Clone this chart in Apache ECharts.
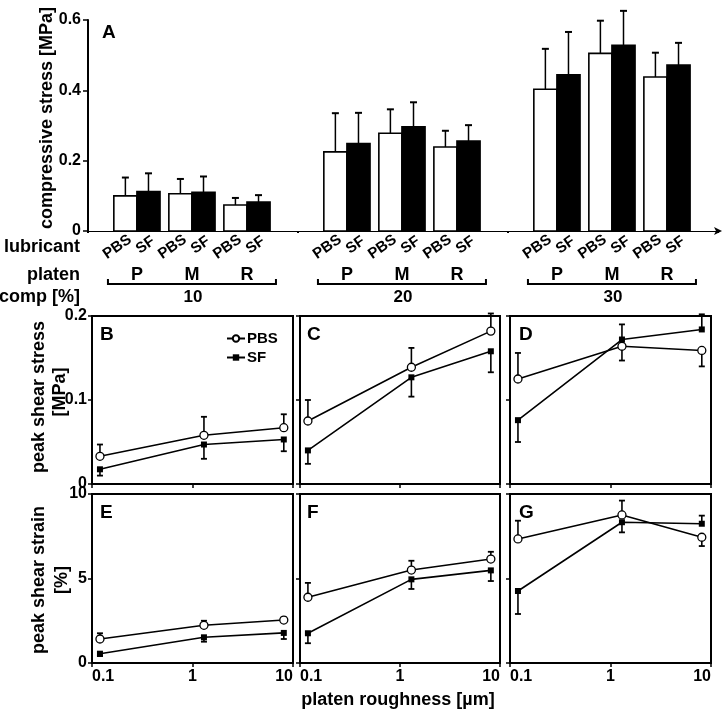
<!DOCTYPE html>
<html><head><meta charset="utf-8">
<script src="https://cdn.jsdelivr.net/npm/echarts@6/dist/echarts.min.js"></script>
<style>html,body{margin:0;padding:0;background:#fff}#c{width:724px;height:714px}</style>
</head><body><div id="c"></div>
<script>
// ---------- DATA ----------
const compGroups = ['10', '20', '30'];          // comp [%]
const platens = ['P', 'M', 'R'];
const lubricants = ['PBS', 'SF'];
// Panel A: compressive stress [MPa], rows = comp group, cols = platen
const compStressPBS   = [[0.100, 0.106, 0.074], [0.225, 0.278, 0.239], [0.403, 0.505, 0.438]];
const compStressPBSsd = [[0.052, 0.042, 0.020], [0.110, 0.068, 0.046], [0.115, 0.093, 0.069]];
const compStressSF    = [[0.112, 0.110, 0.082], [0.249, 0.296, 0.256], [0.444, 0.528, 0.472]];
const compStressSFsd  = [[0.052, 0.045, 0.020], [0.087, 0.070, 0.045], [0.122, 0.098, 0.063]];
// Panels B-G: x = platen roughness [um]
const roughness = [0.12, 1.3, 8.1];
const shearStressPBS   = [[0.033, 0.058, 0.067], [0.075, 0.139, 0.182], [0.125, 0.164, 0.159]];
const shearStressPBSsd = [[0.014, 0.022, 0.016], [0.025, 0.023, 0.021], [0.031, 0.017, 0.019]];
const shearStressSF    = [[0.0175, 0.047, 0.053], [0.040, 0.127, 0.158], [0.076, 0.172, 0.184]];
const shearStressSFsd  = [[0.0075, 0.017, 0.014], [0.016, 0.023, 0.025], [0.026, 0.018, 0.018]];
const shearStrainPBS   = [[1.42, 2.23, 2.54], [3.89, 5.50, 6.15], [7.34, 8.76, 7.44]];
const shearStrainPBSsd = [[0.34, 0.27, 0.16], [0.85, 0.55, 0.43], [1.08, 0.85, 0.52]];
const shearStrainSF    = [[0.55, 1.52, 1.78], [1.76, 4.95, 5.48], [4.26, 8.33, 8.24]];
const shearStrainSFsd  = [[0.14, 0.26, 0.36], [0.59, 0.57, 0.63], [1.36, 0.60, 0.48]];
const compTicksA = [0, 0.2, 0.4, 0.6];
const stressTicks = [0, 0.1, 0.2];
const strainTicks = [0, 5, 10];
const panelLettersTop = ['B', 'C', 'D'];
const panelLettersBottom = ['E', 'F', 'G'];

// ---------- STYLE / LAYOUT ----------
const FF = '"Liberation Sans", Arial, sans-serif';
const BLACK = '#000';
const lefts = [92, 300, 510];
const widths = [201, 200, 201];

const grids = [], xAxes = [], yAxes = [], series = [];

// Panel A grid
grids.push({left: 88, top: 20, right: 6, bottom: 483, show: false, outerBoundsMode: 'none', containLabel: false});
xAxes.push({
  type: 'category', gridIndex: 0, data: compGroups, boundaryGap: true,
  axisLine: {show: true, lineStyle: {color: BLACK, width: 1}, symbol: ['none', 'arrow'], symbolSize: [6, 8], symbolOffset: [0, 4]},
  axisTick: {show: true, length: 2, lineStyle: {color: BLACK, width: 2}},
  axisLabel: {show: true, margin: 58, color: BLACK, fontFamily: FF, fontWeight: 'bold', fontSize: 17},
  splitLine: {show: false}
});
yAxes.push({
  type: 'value', gridIndex: 0, min: compTicksA[0], max: compTicksA[compTicksA.length - 1], interval: 0.2,
  axisLine: {show: true, lineStyle: {color: BLACK, width: 2}},
  axisTick: {show: true, inside: false, length: 5, lineStyle: {color: BLACK, width: 1.5}},
  axisLabel: {color: BLACK, fontFamily: FF, fontWeight: 'bold', fontSize: 16, margin: 7},
  splitLine: {show: false}
});

// Panel A bars + error bars + lubricant labels
const barData = [];
compGroups.forEach((g, gi) => {
  platens.forEach((p, pi) => {
    barData.push([gi, compStressPBS[gi][pi], compStressPBSsd[gi][pi], pi, 0]);
    barData.push([gi, compStressSF[gi][pi], compStressSFsd[gi][pi], pi, 1]);
  });
});
series.push({
  type: 'custom', name: 'compBars', xAxisIndex: 0, yAxisIndex: 0, clip: false, z: 3,
  encode: {x: 0, y: 1}, data: barData,
  renderItem: function (params, api) {
    const gi = api.value(0), mean = api.value(1), sd = api.value(2), pi = api.value(3), li = api.value(4);
    const band = api.size([1, 0])[0];
    const base = api.coord([gi, 0]);
    const top = api.coord([gi, mean])[1];
    const errTop = api.coord([gi, mean + sd])[1];
    const w = band * 0.11;
    const pairC = base[0] - band * 0.005 + (pi - 1) * band * 0.262;
    const x0 = li === 0 ? pairC - w : pairC;
    const xc = x0 + w / 2;
    return {
      type: 'group', children: [
        {type: 'line', shape: {x1: xc, y1: top, x2: xc, y2: errTop}, style: {stroke: BLACK, lineWidth: 1.5}},
        {type: 'line', shape: {x1: xc - 3.5, y1: errTop, x2: xc + 3.5, y2: errTop}, style: {stroke: BLACK, lineWidth: 2}},
        {type: 'rect', shape: {x: x0, y: top, width: w, height: base[1] - top},
          style: {fill: li === 0 ? '#fff' : BLACK, stroke: BLACK, lineWidth: 1.6}},
        {type: 'text', x: li === 0 ? xc - 8 : xc - 3, y: base[1] + (li === 0 ? 16 : 14), rotation: 35 * Math.PI / 180,
          style: {text: lubricants[li], fill: BLACK, font: 'bold 15px ' + FF, align: 'center', verticalAlign: 'middle'}}
      ]
    };
  }
});
// platen labels + brackets
const platenData = [];
compGroups.forEach((g, gi) => platens.forEach((p, pi) => platenData.push([gi, 0, pi])));
series.push({
  type: 'custom', name: 'platenLabels', xAxisIndex: 0, yAxisIndex: 0, clip: false,
  encode: {x: 0, y: 1}, data: platenData,
  renderItem: function (params, api) {
    const gi = api.value(0), pi = api.value(2);
    const band = api.size([1, 0])[0];
    const base = api.coord([gi, 0]);
    const cx = base[0] - band * 0.005;
    const pc = cx + (pi - 1) * band * 0.262;
    const children = [
      {type: 'text', x: pc, y: base[1] + 44, style: {text: platens[pi], fill: BLACK, font: 'bold 18px ' + FF, align: 'center', verticalAlign: 'middle'}}
    ];
    if (pi === 0) {
      const half = band * 0.4;
      const y = base[1] + 53;
      children.push({type: 'polyline', shape: {points: [[cx - half, y - 5], [cx - half, y], [cx + half, y], [cx + half, y - 5]]},
        style: {stroke: BLACK, lineWidth: 2, fill: null}});
    }
    return {type: 'group', children};
  }
});

// Lower panels
function errData(mean, sd, other) {
  return roughness.map((x, i) => [x, mean[i], sd[i], mean[i] >= other[i] ? 1 : -1]);
}
function errRender(params, api) {
  const x = api.value(0), m = api.value(1), sd = api.value(2), d = api.value(3);
  const p = api.coord([x, m]);
  const e = api.coord([x, m + d * sd]);
  return {type: 'group', children: [
    {type: 'line', shape: {x1: p[0], y1: p[1], x2: e[0], y2: e[1]}, style: {stroke: BLACK, lineWidth: 1.6}},
    {type: 'line', shape: {x1: e[0] - 3, y1: e[1], x2: e[0] + 3, y2: e[1]}, style: {stroke: BLACK, lineWidth: 1.8}}
  ]};
}
const rows = [
  {top: 316, height: 168, ticks: stressTicks, interval: 0.1, pbs: shearStressPBS, pbsSd: shearStressPBSsd, sf: shearStressSF, sfSd: shearStressSFsd, showX: false},
  {top: 494, height: 169, ticks: strainTicks, interval: 5, pbs: shearStrainPBS, pbsSd: shearStrainPBSsd, sf: shearStrainSF, sfSd: shearStrainSFsd, showX: true}
];
rows.forEach((row, ri) => {
  compGroups.forEach((g, k) => {
    const gi = grids.length;
    grids.push({left: lefts[k], width: widths[k], top: row.top, height: row.height, show: true,
      borderColor: BLACK, borderWidth: 2, backgroundColor: 'transparent', outerBoundsMode: 'none', containLabel: false});
    xAxes.push({
      type: 'log', logBase: 10, gridIndex: gi, min: 0.1, max: 10,
      axisLine: {show: false},
      axisTick: {show: true, inside: false, length: 4, lineStyle: {color: BLACK, width: 1.5}},
      axisLabel: {show: row.showX, color: BLACK, fontFamily: FF, fontWeight: 'bold', fontSize: 16, margin: 6,
        alignMinLabel: 'left', alignMaxLabel: 'right'},
      splitLine: {show: false}, minorTick: {show: false}
    });
    yAxes.push({
      type: 'value', gridIndex: gi, min: row.ticks[0], max: row.ticks[row.ticks.length - 1], interval: row.interval,
      axisLine: {show: false},
      axisTick: {show: true, inside: false, length: 4, lineStyle: {color: BLACK, width: 1.5}},
      axisLabel: {show: k === 0, color: BLACK, fontFamily: FF, fontWeight: 'bold', fontSize: 16, margin: 5},
      splitLine: {show: false}
    });
    series.push({
      type: 'custom', name: 'errPBS' + gi, xAxisIndex: gi, yAxisIndex: gi, clip: false, z: 1,
      encode: {x: 0, y: 1}, data: errData(row.pbs[k], row.pbsSd[k], row.sf[k]), renderItem: errRender
    });
    series.push({
      type: 'custom', name: 'errSF' + gi, xAxisIndex: gi, yAxisIndex: gi, clip: false, z: 1,
      encode: {x: 0, y: 1}, data: errData(row.sf[k], row.sfSd[k], row.pbs[k]), renderItem: errRender
    });
    series.push({
      type: 'line', name: 'PBS', xAxisIndex: gi, yAxisIndex: gi, z: 3, clip: false,
      data: roughness.map((x, i) => [x, row.pbs[k][i]]),
      symbol: 'circle', symbolSize: 8, showAllSymbol: true,
      lineStyle: {color: BLACK, width: 1.6}, itemStyle: {color: '#fff', borderColor: BLACK, borderWidth: 1.3}
    });
    series.push({
      type: 'line', name: 'SF', xAxisIndex: gi, yAxisIndex: gi, z: 3, clip: false,
      data: roughness.map((x, i) => [x, row.sf[k][i]]),
      symbol: 'rect', symbolSize: 6, showAllSymbol: true,
      lineStyle: {color: BLACK, width: 1.6}, itemStyle: {color: BLACK, borderColor: BLACK, borderWidth: 0}
    });
  });
});

function txt(text, x, y, size, opts) {
  opts = opts || {};
  return {type: 'text', x: x, y: y, rotation: opts.rot || 0, z: 10,
    style: {text: text, fill: BLACK, font: 'bold ' + size + 'px ' + FF, align: opts.align || 'left', verticalAlign: 'middle'}};
}
const R90 = Math.PI / 2;
const graphics = [
  txt('A', 102, 33, 19),
  txt('compressive stress [MPa]', 47, 118, 18, {rot: R90, align: 'center'}),
  txt('lubricant', 80, 247, 18, {align: 'right'}),
  txt('platen', 80, 275, 18, {align: 'right'}),
  txt('comp [%]', 80, 297, 18, {align: 'right'}),
  txt('peak shear stress', 39, 397, 18, {rot: R90, align: 'center'}),
  txt('[MPa]', 60, 392, 18, {rot: R90, align: 'center'}),
  txt('peak shear strain', 39, 580, 18, {rot: R90, align: 'center'}),
  txt('[%]', 62, 580, 18, {rot: R90, align: 'center'}),
  txt('platen roughness [µm]', 398, 700, 18, {align: 'center'})
];
const letterX = [100, 307, 519];
panelLettersTop.forEach((L, i) => graphics.push(txt(L, letterX[i], 335, 19)));
panelLettersBottom.forEach((L, i) => graphics.push(txt(L, letterX[i], 513, 19)));

const chart = echarts.init(document.getElementById('c'), null, {renderer: 'canvas'});
chart.setOption({
  animation: false,
  backgroundColor: '#fff',
  grid: grids, xAxis: xAxes, yAxis: yAxes, series: series,
  legend: {
    show: true, orient: 'vertical', left: 226, top: 331, itemWidth: 18, itemHeight: 8, itemGap: 4,
    data: ['PBS', 'SF'], selectedMode: false, padding: 0,
    textStyle: {color: BLACK, fontFamily: FF, fontWeight: 'bold', fontSize: 15, padding: [0, 0, 0, -3]}
  },
  graphic: graphics
});
</script>
</body></html>
